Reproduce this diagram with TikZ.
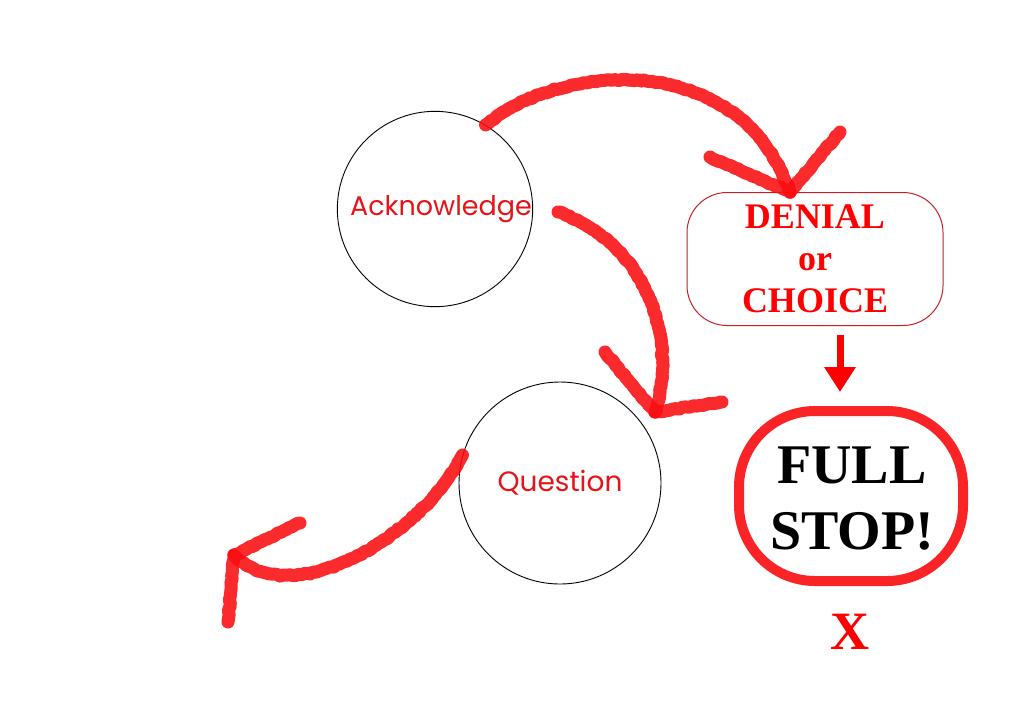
\documentclass[tikz,border=0pt]{standalone}
\usepackage{fontspec}
\setmainfont{Liberation Serif}
\newfontfamily\handfont{Poppins}
\usepackage{tikz}
\usetikzlibrary{arrows.meta,positioning,calc,decorations.pathmorphing}
\definecolor{crayonred}{RGB}{250,12,16}
\definecolor{boxred}{RGB}{196,32,40}
\definecolor{textred}{RGB}{228,20,24}
\tikzset{%
  bubble/.style={draw=black,circle,line width=0.9pt,inner sep=0pt,
    font=\handfont\fontsize{27}{30}\selectfont,text=textred},
  crayon/.style={draw=crayonred,line width=13pt,line cap=round,line join=round,
    opacity=.88,decorate,decoration={random steps,segment length=3pt,amplitude=0.8pt}},
  pointer/.style={draw=red,line width=7pt,-{Triangle[length=25pt,width=30pt]}}%
}

\begin{document}
\begin{tikzpicture}[x=1pt,y=-1pt,
    choicebox/.style={
        draw=boxred,
        line width=1pt,
        rounded corners=40pt,
        align=center,
        minimum width=256pt,
        minimum height=133pt,
        text=red,
        font=\bfseries\fontsize{36}{42}\selectfont
    },
    stopring/.style={
        draw=crayonred,
        opacity=.9,
        line width=10pt,
        rounded corners=76pt,
        align=center,
        minimum width=224pt,
        minimum height=170pt,
        font=\bfseries\fontsize{56}{66}\selectfont
    }
]
\path[use as bounding box] (0,0) rectangle (1024,724);

% Circles
\node[bubble, minimum size=190pt] (ack) at (435,209) {\hspace*{12pt}Acknowledge};
\node[bubble, minimum size=202pt, font=\handfont\fontsize{28}{30}\selectfont] (quest) at (560,483) {Question};

% Right column
\node[choicebox] (denial) at (815,259) {DENIAL\\or\\CHOICE};
\node[stopring] (stop) at (851,496) {};
\node[align=center, font=\bfseries\fontsize{56}{66}\selectfont] (stoptext) at (852,499) {FULL\\STOP!};
\node[text=red, font=\bfseries\fontsize{54}{60}\selectfont] (cross) at (850,632) {X};

% Tips of the crayon arrows
\coordinate (tipA) at ([xshift=-25pt]denial.north);
\coordinate (startB) at (558,212);
\coordinate (tipB) at (655,412);
\coordinate (tipC) at (234,555);

% Crayon arrows
\draw[crayon] (ack.59) .. controls +(76,-63) and +(-50,-143) .. (tipA);
\draw[crayon] ($(tipA)+(-80,-35)$) -- (tipA) -- +(50,-60);

\draw[crayon] (startB) .. controls +(82,28) and +(25,-80) .. (tipB);
\draw[crayon] ($(tipB)+(-50,-60)$) -- (tipB) -- +(67,-10);

\draw[crayon] (quest.164) .. controls +(-38,77) and +(60,60) .. (tipC);
\draw[crayon] ($(tipC)+(66,-32)$) -- (tipC) -- +(-6,67);

% Straight arrow
\draw[pointer, shorten <=9pt, shorten >=14pt] ([xshift=25pt]denial.south) -- ([xshift=25pt]denial.south |- stop.north);

\end{tikzpicture}
\end{document}
